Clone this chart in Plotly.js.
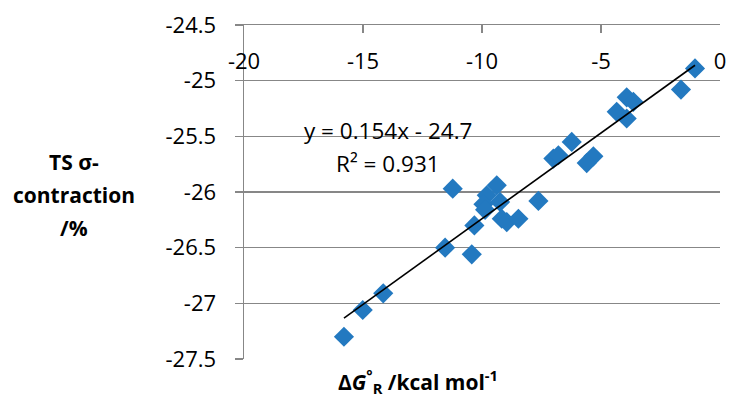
<!DOCTYPE html>
<html>
<head>
<meta charset="utf-8">
<script src="https://cdn.plot.ly/plotly-3.0.1.min.js"></script>
<style>
  html, body { margin: 0; padding: 0; background: #fff; }
  #chart { width: 730px; height: 398px; }
</style>
</head>
<body>
<div id="chart"></div>
<script>
// ΔG°R (kcal/mol) values
const deltaG = [-1.05, -1.64, -3.92, -3.64, -4.34, -3.92, -6.23, -7.0, -6.79, -5.32, -5.60,
  -11.23, -9.38, -9.80, -9.94, -9.24, -9.87, -9.17, -8.96, -8.47, -7.63, -10.32, -11.55, -10.43,
  -14.15, -15.01, -15.80];
// TS σ-contraction (%) values
const contraction = [-24.89, -25.08, -25.15, -25.19, -25.28, -25.34, -25.55, -25.70, -25.67, -25.68, -25.74,
  -25.97, -25.94, -26.03, -26.11, -26.09, -26.16, -26.24, -26.27, -26.24, -26.08, -26.30, -26.50, -26.56,
  -26.91, -27.06, -27.30];
// Linear trend line coefficients
const slope = 0.154;
const intercept = -24.7;
const rSquared = 0.931;
const xTickVals = [-20, -15, -10, -5, 0];
const yTickVals = [-24.5, -25, -25.5, -26, -26.5, -27, -27.5];
const yTitleLines = ['TS σ-', 'contraction', '/%'];

const xMin = Math.min(...deltaG), xMax = Math.max(...deltaG);
const trendX = [xMin, xMax];
const trendY = trendX.map(x => slope * x + intercept);

const font = "'Open Sans', 'Noto Sans', sans-serif";
const grid = '#878787';

const data = [
  {
    x: deltaG, y: contraction, type: 'scatter', mode: 'markers',
    marker: { symbol: 'diamond', size: 15.5, color: '#2379c0' },
    showlegend: false, cliponaxis: false
  },
  {
    x: trendX, y: trendY, type: 'scatter', mode: 'lines',
    line: { color: '#000', width: 1.6 }, showlegend: false
  }
];

const yTitleY = [0.589, 0.490, 0.392];
const annotations = yTitleLines.map((t, i) => ({
  xref: 'paper', yref: 'paper', x: -0.358, y: yTitleY[i],
  xanchor: 'center', yanchor: 'middle', showarrow: false,
  text: '<b>' + t + '</b>',
  font: { family: font, size: 21, color: '#000' }
}));
annotations.push(
  {
    xref: 'paper', yref: 'paper', x: 0.365, y: -0.066,
    xanchor: 'center', yanchor: 'middle', showarrow: false,
    text: '<b>Δ<i>G</i><sup>°</sup><sub>R</sub> /kcal mol<sup>-1</sup></b>',
    font: { family: font, size: 21, color: '#000' }
  },
  {
    xref: 'x', yref: 'y', x: -13.95, y: -25.45,
    xanchor: 'center', yanchor: 'middle', showarrow: false,
    text: 'y = ' + slope + 'x - ' + Math.abs(intercept),
    font: { family: font, size: 22.5, color: '#000' }
  },
  {
    xref: 'x', yref: 'y', x: -13.95, y: -25.745,
    xanchor: 'center', yanchor: 'middle', showarrow: false,
    text: 'R² = ' + rSquared,
    font: { family: font, size: 22.5, color: '#000' }
  }
);

const layout = {
  width: 730, height: 398,
  margin: { l: 244, r: 10, t: 24.5, b: 39, pad: 0 },
  paper_bgcolor: '#fff', plot_bgcolor: '#fff',
  font: { family: font, size: 22, color: '#000' },
  showlegend: false,
  xaxis: {
    range: [-20, 0], side: 'top',
    tickvals: xTickVals, ticktext: xTickVals.map(String),
    ticks: 'inside', ticklen: 8, tickcolor: grid, tickwidth: 1.5,
    ticklabelposition: 'inside', ticklabeloverflow: 'allow', ticklabelstandoff: 22,
    showgrid: false, zeroline: false,
    showline: true, linecolor: grid, linewidth: 1.5,
    tickfont: { family: font, size: 22, color: '#000' }
  },
  yaxis: {
    range: [-27.5, -24.5],
    tickvals: yTickVals, ticktext: yTickVals.map(String),
    ticks: 'outside', ticklen: 8, tickcolor: grid, tickwidth: 1.5,
    ticklabelstandoff: 14,
    showgrid: true, gridcolor: grid, gridwidth: 1.5,
    zeroline: false,
    showline: true, linecolor: grid, linewidth: 1.5,
    tickfont: { family: font, size: 22, color: '#000' }
  },
  annotations: annotations
};

Plotly.newPlot('chart', data, layout, { displayModeBar: false, staticPlot: true });
</script>
</body>
</html>
